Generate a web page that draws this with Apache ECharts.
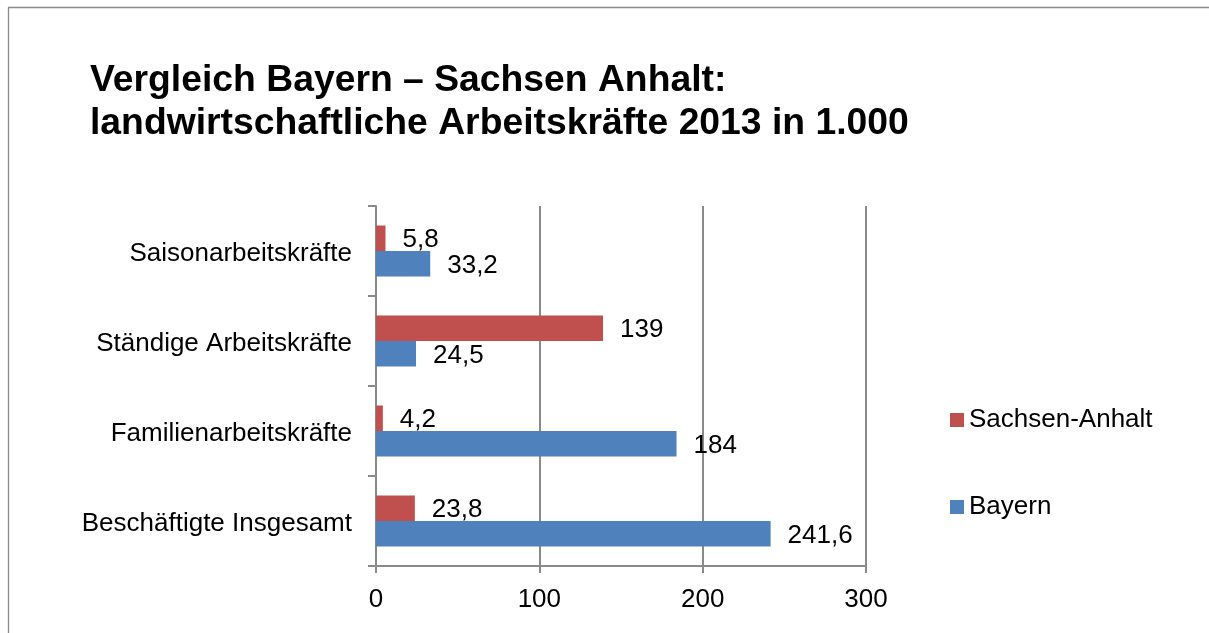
<!DOCTYPE html>
<html>
<head>
<meta charset="utf-8">
<script src="https://cdn.jsdelivr.net/npm/echarts@6/dist/echarts.min.js"></script>
<style>
html,body{margin:0;padding:0;background:#fff;}
#chart{width:1209px;height:633px;}
</style>
</head>
<body>
<div id="chart"></div>
<script>
const titleText = 'Vergleich Bayern – Sachsen Anhalt:\nlandwirtschaftliche Arbeitskräfte 2013 in 1.000';
const categories = ['Beschäftigte Insgesamt', 'Familienarbeitskräfte', 'Ständige Arbeitskräfte', 'Saisonarbeitskräfte'];
const bayern = [241.6, 184, 24.5, 33.2];
const sachsenAnhalt = [23.8, 4.2, 139, 5.8];
const seriesNames = ['Sachsen-Anhalt', 'Bayern'];
const legendOrder = ['Sachsen-Anhalt', 'Bayern'];
const xMin = 0, xMax = 300, xInterval = 100;

const FONT = "'Liberation Sans', Arial, sans-serif";
const GRAY = '#8a8a8a';
const fmt = v => String(v).replace('.', ',');

const chart = echarts.init(document.getElementById('chart'), null, {renderer: 'canvas'});
const labelCfg = {
  show: true, position: 'right', distance: 17, offset: [0, 2],
  color: '#000', fontSize: 26, fontFamily: FONT,
  formatter: p => fmt(p.value)
};
chart.setOption({
  animation: false,
  backgroundColor: '#fff',
  title: {
    text: titleText, left: 90, top: 59, padding: 0,
    textStyle: {fontSize: 37.3, fontWeight: 'bold', fontFamily: FONT, color: '#000', lineHeight: 43}
  },
  graphic: [
    {type: 'line', shape: {x1: 8.5, y1: 7.5, x2: 8.5, y2: 633}, style: {stroke: GRAY, lineWidth: 1.3}},
    {type: 'line', shape: {x1: 8, y1: 7.5, x2: 1209, y2: 7.5}, style: {stroke: GRAY, lineWidth: 1.3}}
  ],
  legend: {
    data: legendOrder, orient: 'vertical', left: 950, top: 407, padding: 0,
    itemWidth: 14, itemHeight: 14, itemGap: 61, icon: 'rect',
    textStyle: {fontSize: 26, fontFamily: FONT, color: '#000'}
  },
  grid: {left: 376, right: 343, top: 206, bottom: 67, containLabel: false},
  xAxis: {
    type: 'value', min: xMin, max: xMax, interval: xInterval,
    axisLine: {show: true, lineStyle: {color: GRAY, width: 2}},
    axisTick: {show: true, length: 7, lineStyle: {color: GRAY, width: 2}},
    splitLine: {show: true, lineStyle: {color: GRAY, width: 2}},
    axisLabel: {fontSize: 26, fontFamily: FONT, color: '#000', margin: 21}
  },
  yAxis: {
    type: 'category', data: categories,
    axisLine: {show: true, lineStyle: {color: GRAY, width: 2}},
    axisTick: {show: true, length: 8, lineStyle: {color: GRAY, width: 2}},
    axisLabel: {
      color: '#000', margin: 24,
      formatter: v => '{c|' + v + '}',
      rich: {c: {fontSize: 26, fontFamily: FONT, color: '#000', padding: [6, 0, 0, 0]}}
    }
  },
  series: [
    {name: seriesNames[0], type: 'bar', data: sachsenAnhalt, barWidth: 25.5, barGap: '0%',
     itemStyle: {color: '#C0504D'}, label: labelCfg},
    {name: seriesNames[1], type: 'bar', data: bayern, barWidth: 25.5, barGap: '0%',
     itemStyle: {color: '#4F81BD'}, label: labelCfg}
  ]
});
</script>
</body>
</html>
